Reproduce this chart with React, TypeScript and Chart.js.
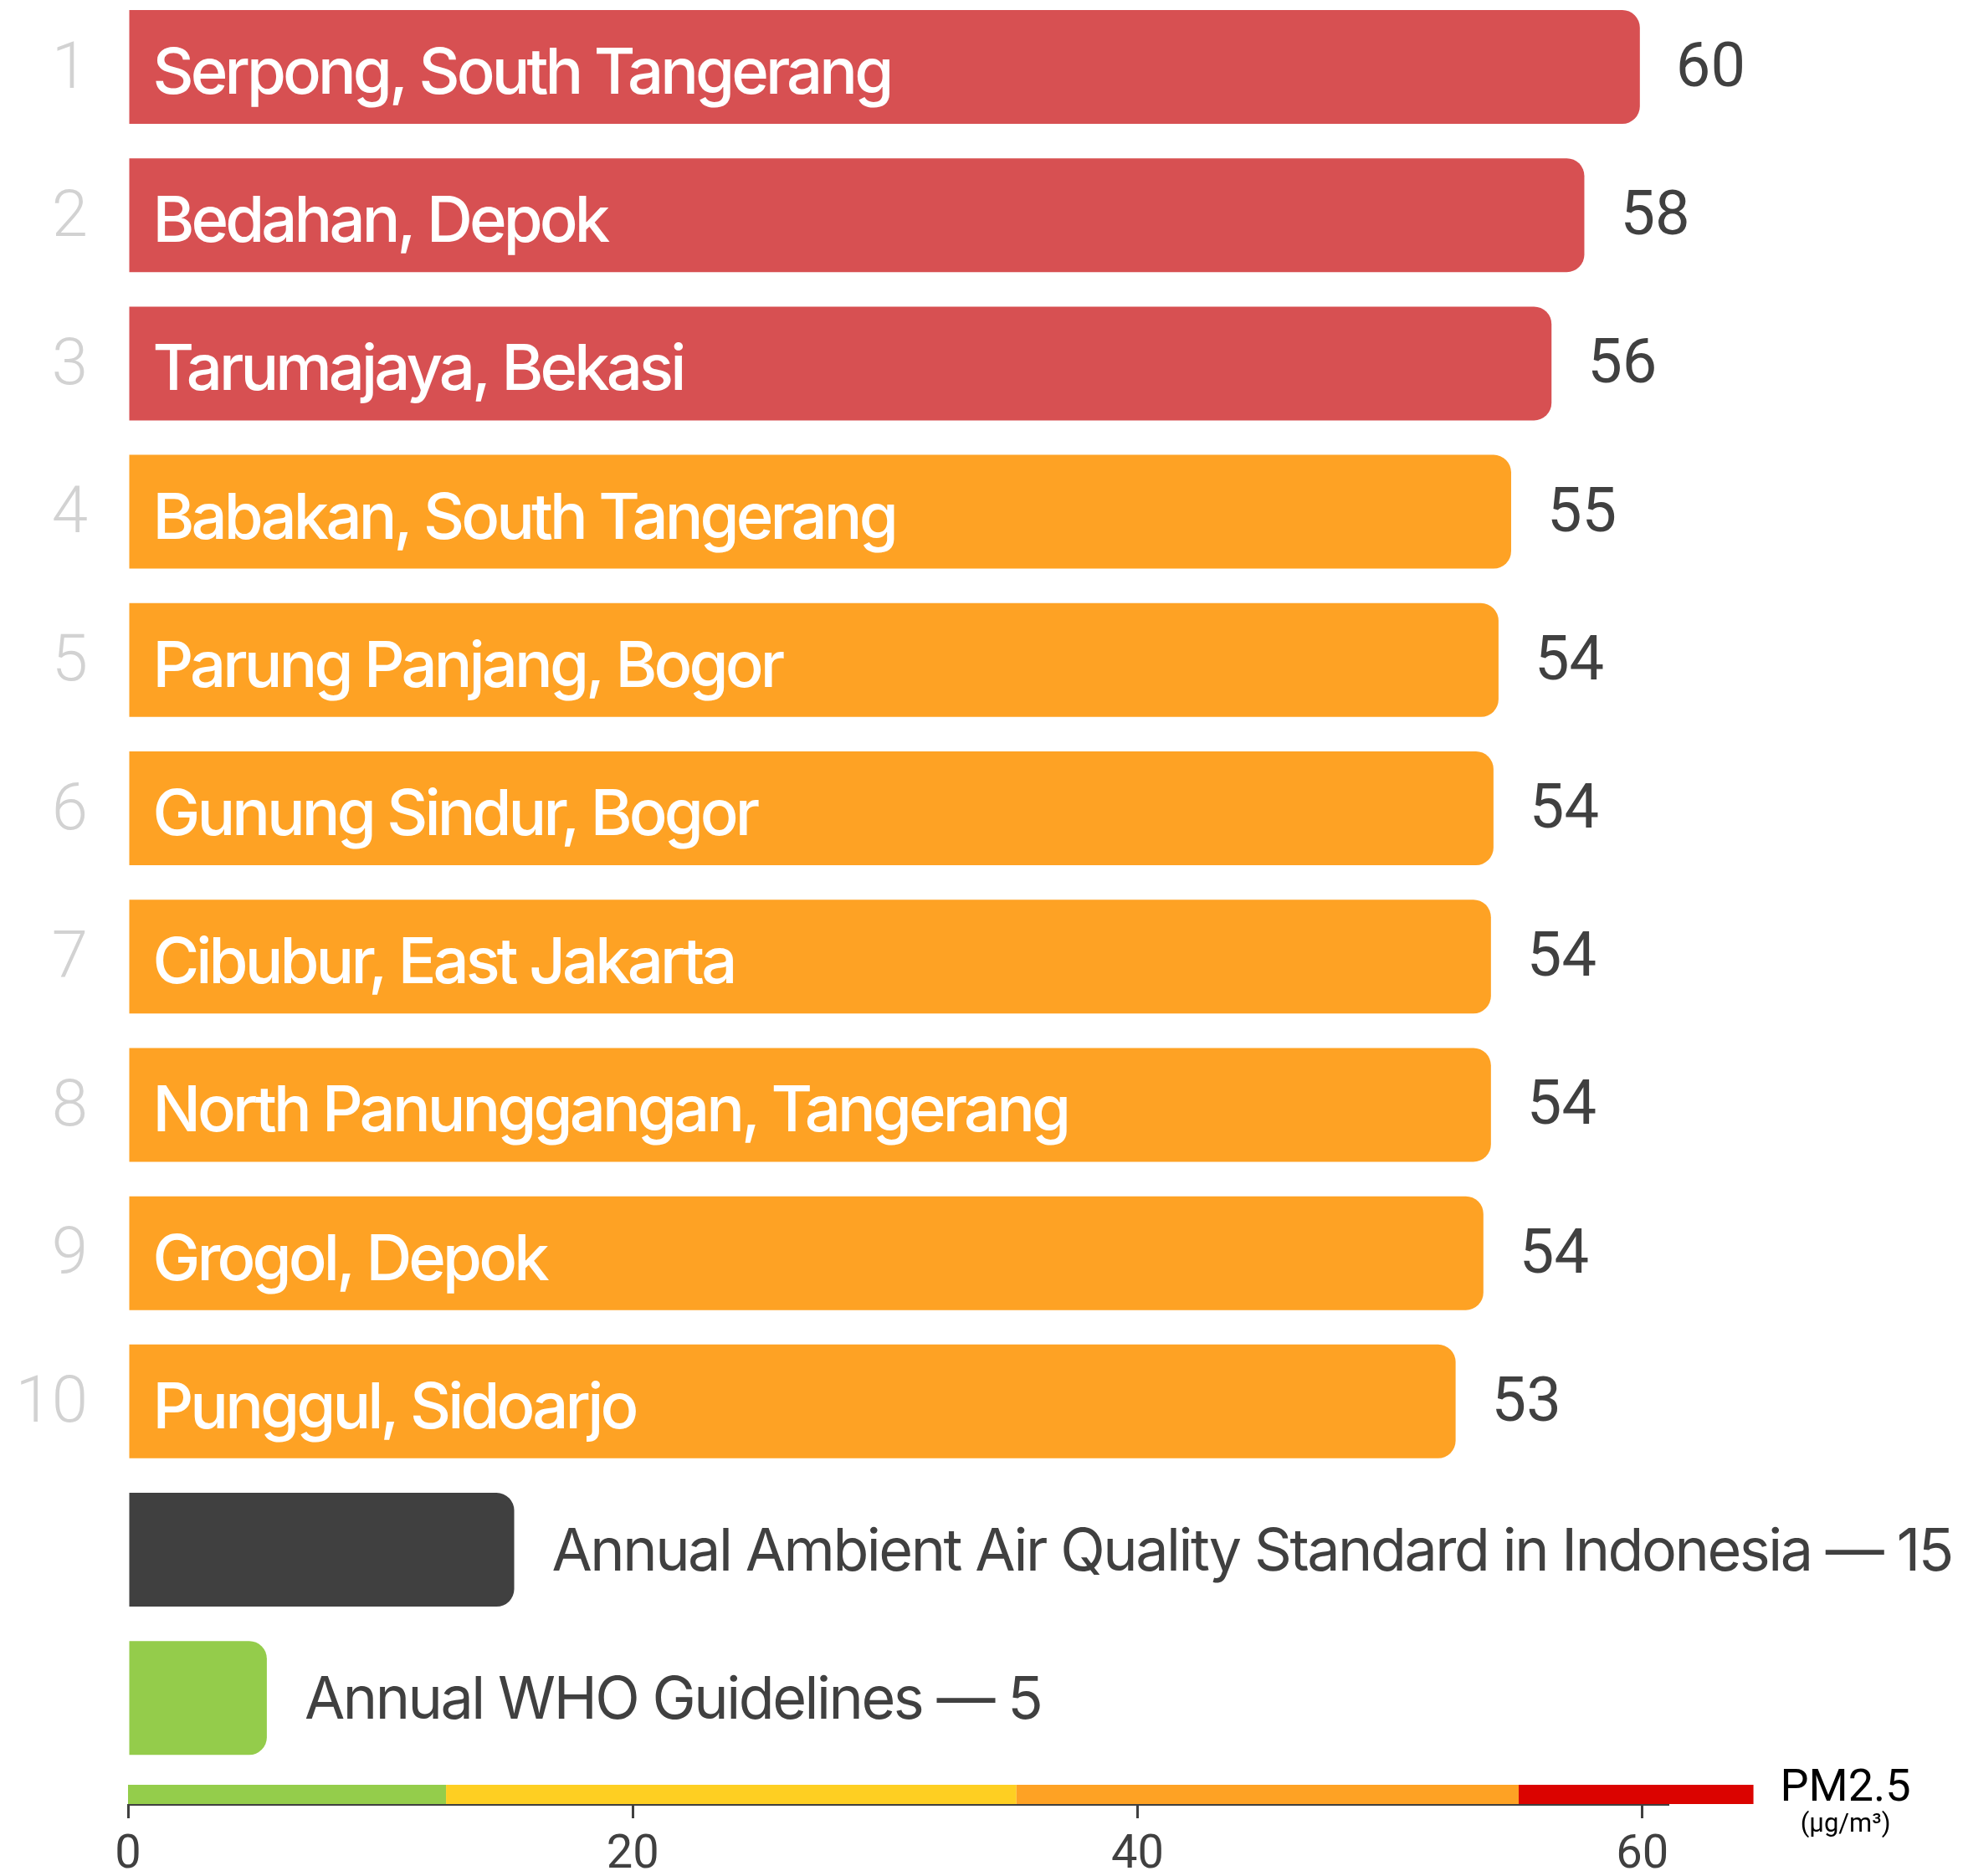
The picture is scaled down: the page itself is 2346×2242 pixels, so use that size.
import React, { useEffect, useRef } from 'react';
import { Chart, registerables } from 'chart.js';

Chart.register(...registerables);

// ---- data ----
const rankLabels = ['1', '2', '3', '4', '5', '6', '7', '8', '9', '10'];
const stations = [
  'Serpong, South Tangerang',
  'Bedahan, Depok',
  'Tarumajaya, Bekasi',
  'Babakan, South Tangerang',
  'Parung Panjang, Bogor',
  'Gunung Sindur, Bogor',
  'Cibubur, East Jakarta',
  'North Panunggangan, Tangerang',
  'Grogol, Depok',
  'Punggul, Sidoarjo',
];
const pm25 = [59.9, 57.7, 56.4, 54.8, 54.3, 54.1, 54.0, 54.0, 53.7, 52.6];
const stationColors = [
  '#d75052', '#d75052', '#d75052',
  '#fea224', '#fea224', '#fea224', '#fea224', '#fea224', '#fea224', '#fea224',
];
const referenceNames = [
  'Annual Ambient Air Quality Standard in Indonesia \u2014 15',
  'Annual WHO Guidelines \u2014 5',
];
const referenceValues = [15.3, 5.5];
const referenceColors = ['#404040', '#94cc4b'];
const xTickStep = 20;
const xMax = 61;
const bandStops = [0, 12.6, 35.2, 55.1, 64.4];
const bandColors = ['#94cd4b', '#fecf22', '#fea224', '#db0300'];
const unitTitle = 'PM2.5';
const unitSub = '(\u00b5g/m\u00b3)';

const W = 2346;
const H = 2242;

const labelPlugin = {
  id: 'labelPlugin',
  afterDatasetsDraw(chart: any) {
    const ctx = chart.ctx;
    const meta = chart.getDatasetMeta(0);
    ctx.save();
    meta.data.forEach((bar: any, i: number) => {
      const y = bar.y;
      ctx.textAlign = 'left';
      ctx.textBaseline = 'alphabetic';
      if (i < stations.length) {
        // station name inside the bar
        ctx.fillStyle = '#ffffff';
        ctx.font = '500 76px Inter';
        (ctx as any).letterSpacing = '-3.9px';
        ctx.fillText(stations[i], bar.base + 28, y + 32);
        // value label after the bar
        (ctx as any).letterSpacing = '0px';
        ctx.fillStyle = '#404040';
        ctx.font = '400 74px Roboto';
        ctx.fillText(String(Math.round(pm25[i])), bar.x + 43, y + 23);
      } else {
        const r = i - stations.length;
        ctx.fillStyle = '#404040';
        ctx.font = '400 70px Inter';
        (ctx as any).letterSpacing = '-2.45px';
        ctx.fillText(referenceNames[r], bar.x + 45, y + 25);
        (ctx as any).letterSpacing = '0px';
      }
    });
    ctx.restore();
  },
  afterDraw(chart: any) {
    const ctx = chart.ctx;
    const xs = chart.scales.x;
    const bottom = chart.chartArea.bottom - 1;
    const top = bottom - 23;
    ctx.save();
    for (let i = 0; i < bandColors.length; i++) {
      const x0 = xs.getPixelForValue(bandStops[i]);
      const x1 = xs.getPixelForValue(bandStops[i + 1]);
      ctx.fillStyle = bandColors[i];
      ctx.fillRect(x0, top, x1 - x0, bottom - top);
    }
    const cx = xs.getPixelForValue(bandStops[bandStops.length - 1]) + 110;
    ctx.fillStyle = '#000000';
    ctx.textAlign = 'center';
    ctx.textBaseline = 'alphabetic';
    ctx.font = '400 54px Roboto';
    ctx.fillText(unitTitle, cx, chart.chartArea.bottom - 5);
    ctx.font = '400 31px Roboto';
    ctx.fillText(unitSub, cx, chart.chartArea.bottom + 32);
    ctx.restore();
  },
};

export default function App() {
  const canvasRef = useRef<HTMLCanvasElement | null>(null);

  useEffect(() => {
    const canvas = canvasRef.current;
    if (!canvas) return;
    const points = [
      ...pm25.map((v, i) => ({ x: v, y: i })),
      ...referenceValues.map((v, i) => ({ x: v, y: pm25.length + i })),
    ];
    const chart = new Chart(canvas, {
      type: 'bar',
      data: {
        datasets: [
          {
            data: points as any,
            backgroundColor: [...stationColors, ...referenceColors],
            borderRadius: 21,
            borderSkipped: 'start',
            barPercentage: 0.7675,
            categoryPercentage: 1,
          },
        ],
      },
      options: {
        indexAxis: 'y',
        animation: false,
        responsive: false,
        devicePixelRatio: 1,
        layout: { padding: { left: 0, right: W - 1993, top: 0, bottom: 0 } },
        plugins: {
          legend: { display: false },
          tooltip: { enabled: false },
        },
        scales: {
          x: {
            type: 'linear',
            position: 'bottom',
            min: 0,
            max: xMax,
            afterFit: (s: any) => {
              s.height = H - 2157;
              s.paddingLeft = 0;
              s.paddingRight = 0;
              s.paddingTop = 0;
              s.paddingBottom = 0;
            },
            ticks: {
              stepSize: xTickStep,
              includeBounds: false,
              maxRotation: 0,
              font: { family: 'Roboto', size: 56 },
              color: '#404040',
              padding: 11,
            },
            grid: {
              display: true,
              drawOnChartArea: false,
              drawTicks: true,
              tickLength: 16,
              color: '#404040',
              lineWidth: 3,
            },
            border: { display: true, color: '#404040', width: 2 },
          },
          y: {
            type: 'linear',
            position: 'left',
            reverse: true,
            offset: false,
            min: -0.4515,
            max: 11.721,
            afterFit: (s: any) => {
              s.width = 153;
              s.paddingTop = 0;
              s.paddingBottom = 0;
              s.paddingLeft = 0;
              s.paddingRight = 0;
            },
            ticks: {
              stepSize: 1,
              includeBounds: false,
              autoSkip: false,
              callback: (v: any) => rankLabels[v as number] ?? '',
              font: { family: 'Roboto', size: 78, weight: 300 as any },
              color: '#d2d2d2',
              padding: 48,
              labelOffset: 5,
            },
            grid: { display: false, drawTicks: false },
            border: { display: false },
          },
        },
      } as any,
      plugins: [labelPlugin],
    });
    return () => chart.destroy();
  }, []);

  return (
    <div style={{ position: 'absolute', left: 0, top: 0, width: W, height: H, background: '#ffffff' }}>
      <canvas ref={canvasRef} width={W} height={H} style={{ display: 'block', width: W, height: H }} />
    </div>
  );
}
